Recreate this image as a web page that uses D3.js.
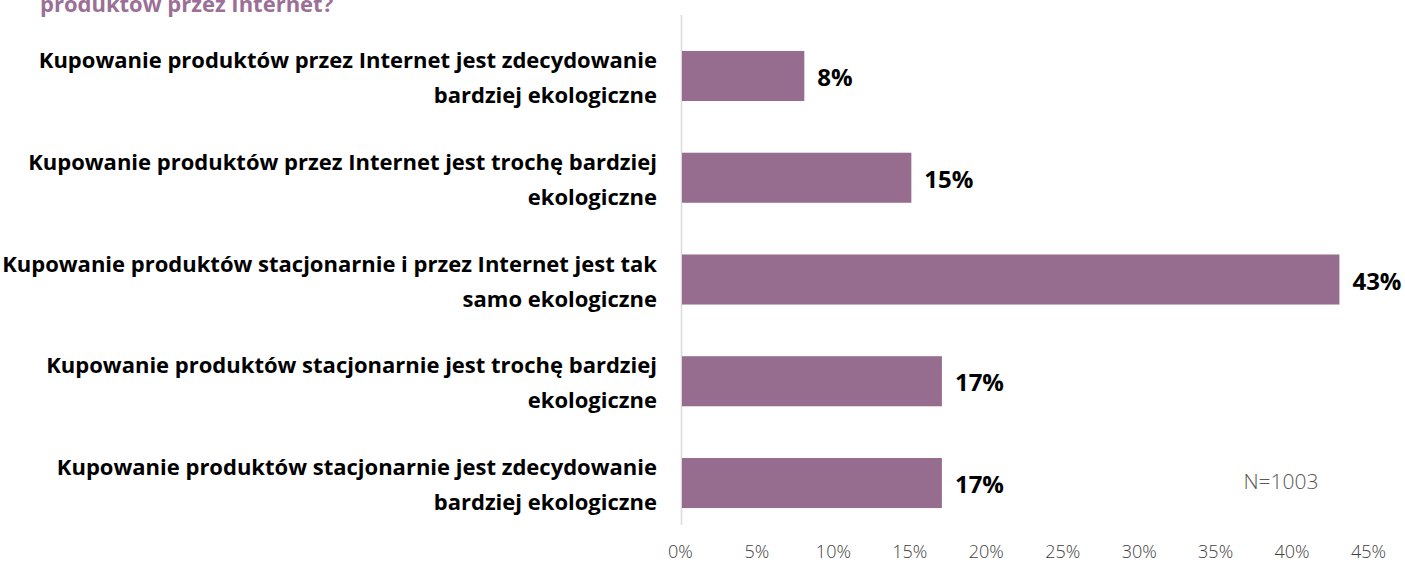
<!DOCTYPE html>
<html>
<head>
<meta charset="utf-8">
<script src="https://cdn.jsdelivr.net/npm/d3@7"></script>
<style>
  html, body { margin: 0; padding: 0; background: #fff; }
  svg { display: block; }
</style>
</head>
<body>
<svg id="chart" width="1405" height="562"></svg>
<script>
// Survey answers (each split into its two printed lines)
const categories = [
  ["Kupowanie produktów przez Internet jest zdecydowanie", "bardziej ekologiczne"],
  ["Kupowanie produktów przez Internet jest trochę bardziej", "ekologiczne"],
  ["Kupowanie produktów stacjonarnie i przez Internet jest tak", "samo ekologiczne"],
  ["Kupowanie produktów stacjonarnie jest trochę bardziej", "ekologiczne"],
  ["Kupowanie produktów stacjonarnie jest zdecydowanie", "bardziej ekologiczne"]
];
const shares = [8, 15, 43, 17, 17];
const tickValues = [0, 5, 10, 15, 20, 25, 30, 35, 40, 45];
const titleLine = "produktów przez Internet?";
const sampleNote = "N=1003";

const svg = d3.select("#chart");

const x = d3.scaleLinear().domain([0, 45]).range([682, 1370]);
const y = d3.scaleBand()
  .domain(d3.range(categories.length))
  .range([25, 534])
  .paddingInner(0.508)
  .paddingOuter(0.255);

// Title (tail end of the question)
svg.append("text")
  .attr("x", 40).attr("y", 12)
  .attr("fill", "#9b7096")
  .style("font-family", "'Open Sans', sans-serif")
  .style("font-weight", 700)
  .style("font-size", "22px")
  .text(titleLine);

// Vertical category axis line
svg.append("line")
  .attr("x1", x(0) - 0.5).attr("x2", x(0) - 0.5)
  .attr("y1", 15).attr("y2", 525)
  .attr("stroke", "#d9d9d9").attr("stroke-width", 1.5);

// Bars
svg.append("g").selectAll("rect")
  .data(shares)
  .join("rect")
  .attr("x", x(0))
  .attr("y", (d, i) => y(i))
  .attr("width", d => x(d) - x(0))
  .attr("height", y.bandwidth())
  .attr("fill", "#966d8e");

// Value labels
svg.append("g").selectAll("text")
  .data(shares)
  .join("text")
  .attr("x", d => x(d) + 13)
  .attr("y", (d, i) => y(i) + y.bandwidth() / 2 + 10)
  .style("font-family", "'Open Sans', sans-serif")
  .style("font-weight", 700)
  .style("font-size", "24px")
  .attr("fill", "#000")
  .text(d => d + "%");

// Category labels, right aligned, two lines
const cat = svg.append("g").selectAll("text")
  .data(categories)
  .join("text")
  .attr("text-anchor", "end")
  .style("font-family", "'Open Sans', sans-serif")
  .style("font-weight", 700)
  .style("font-stretch", "90%")
  .style("font-size", "22px")
  .attr("fill", "#000");
cat.each(function(lines, i) {
  const t = d3.select(this);
  const cy = y(i) + y.bandwidth() / 2;
  lines.forEach((ln, k) => {
    t.append("tspan")
      .attr("x", 657)
      .attr("y", cy - 8 + k * 35)
      .text(ln);
  });
});

// Bottom value axis (labels only)
const axis = d3.axisBottom(x)
  .tickValues(tickValues)
  .tickFormat(d => d + "%")
  .tickSize(0)
  .tickPadding(0);
const ax = svg.append("g")
  .attr("transform", "translate(0,558)")
  .call(axis);
ax.select(".domain").remove();
ax.selectAll("text")
  .attr("dy", 0)
  .attr("y", 0)
  .attr("x", -2)
  .style("font-family", "'Open Sans', sans-serif")
  .style("font-weight", 300)
  .style("font-size", "18px")
  .attr("fill", "#404040");

// Sample size note
svg.append("text")
  .attr("x", 1281).attr("y", 489)
  .attr("text-anchor", "middle")
  .style("font-family", "'Open Sans', sans-serif")
  .style("font-weight", 300)
  .style("font-size", "21px")
  .attr("fill", "#595959")
  .text(sampleNote);
</script>
</body>
</html>
